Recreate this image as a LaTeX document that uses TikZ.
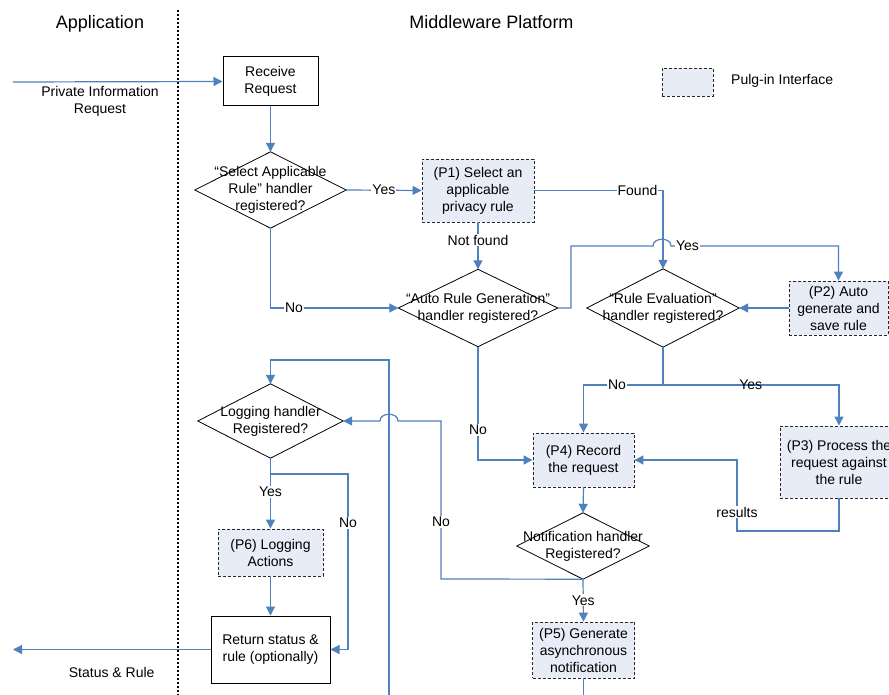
\documentclass[tikz,border=0pt]{standalone}
\usepackage{fontspec}
\setmainfont{Liberation Sans}
\usetikzlibrary{arrows.meta}
\definecolor{lnblue}{RGB}{79,129,189}
\definecolor{plugfill}{RGB}{231,236,246}
\begin{document}
\begin{tikzpicture}[x=1pt,y=-1pt,
  every node/.style={font=\fontsize{14}{17}\selectfont, align=center, inner sep=0pt},
  plainbox/.style={draw=black, line width=1pt},
  plugbox/.style={draw=black!85, dash pattern=on 3pt off 2pt, fill=plugfill, line width=0.9pt},
  decision/.style={draw=none},
  diaedge/.style={draw=black, line width=0.8pt},
  flow/.style={draw=lnblue, line width=1.2pt},
  arr/.style={flow, -{Triangle[length=9pt,width=9pt]}},
  lbl/.style={fill=white, inner sep=1pt},
  heading/.style={font=\fontsize{18}{21}\selectfont}]
\useasboundingbox (0,0) rectangle (889,695);
\clip (0,0) rectangle (889,695);
\fill[white] (0,0) rectangle (889,695);

% headings and separator
\node[heading] (happ) at (100,24) {Application};
\node[heading] (hmid) at (491.5,22) {Middleware Platform};
\draw[line width=2pt, dash pattern=on 2pt off 2pt] (178,10) -- (178,695);

% legend
\node[plugbox, minimum width=51pt, minimum height=28pt] (leg) at (687.5,82) {};
\node[anchor=west] (legtxt) at (731,81) {Pulg-in Interface};

% process nodes
\node[plainbox, minimum width=95pt, minimum height=49pt] (recv) at (270.5,81.5) {Receive\\Request};
\node[decision, minimum width=151pt, minimum height=76pt] (d1) at (270.5,190) {“Select Applicable\\Rule” handler\\registered?};
\node[plugbox, minimum width=112pt, minimum height=63pt] (p1) at (478,190.5) {(P1) Select an\\applicable\\privacy rule};
\node[decision, minimum width=159pt, minimum height=77pt] (d2) at (478,308) {“Auto Rule Generation”\\handler registered?};
\node[decision, minimum width=152pt, minimum height=78pt] (d3) at (663,308) {“Rule Evaluation”\\handler registered?};
\node[plugbox, minimum width=99pt, minimum height=54pt] (p2) at (838.5,308) {(P2) Auto\\generate and\\save rule};
\node[plugbox, minimum width=118pt, minimum height=72pt] (p3) at (839,462) {(P3) Process the\\request against\\the rule};
\node[plugbox, minimum width=101pt, minimum height=54pt] (p4) at (583.5,460) {(P4) Record\\the request};
\node[decision, minimum width=132pt, minimum height=66pt] (d4) at (583,546) {Notification handler\\Registered?};
\node[plugbox, minimum width=102pt, minimum height=56pt] (p5) at (583.5,650) {(P5) Generate\\asynchronous\\notification};
\node[decision, minimum width=145pt, minimum height=74pt] (d5) at (270.5,421) {Logging handler\\Registered?};
\node[plugbox, minimum width=105pt, minimum height=47pt] (p6) at (270.5,552.5) {(P6) Logging\\Actions};
\node[plainbox, minimum width=119pt, minimum height=67pt] (ret) at (270.5,649.5) {Return status \&\\rule (optionally)};

% diamond outlines
\foreach \d in {d1,d2,d3,d4,d5}
  \draw[diaedge] (\d.north) -- (\d.east) -- (\d.south) -- (\d.west) -- cycle;

% free ends and junctions
\coordinate (appin) at (13,82);
\coordinate (appout) at (13,649.5);
\coordinate (p5out) at (583.5,695);
\coordinate (loopin) at (389,695);
\coordinate (evsplit) at (663,385);
\coordinate (logsplit) at (270.5,474);

% connectors
\draw[arr] (appin) -- (recv.west);
\node (lpir) at (100,101.5) {Private Information\\Request};
\draw[arr] (recv.south) -- (d1.north);
\draw[arr] (d1.east) -- node[lbl] (lyes1) {Yes} (p1.west);
\draw[arr] (p1.south) -- node[lbl, pos=0.38] (lnf) {Not found} (d2.north);
\draw[arr] (p1.east) -| (d3.north);
\node[lbl] (lfound) at (637.5,190) {Found};
\draw[arr] (d1.south) |- (d2.west);
\node[lbl] (lno1) at (294,308) {No};
\draw[arr] (d2.east) -- (571,308) -- (571,246) -- (653,246)
  .. controls (653,237) and (671,237) .. (671,246) -| (p2.north);
\node[lbl] (lyes2) at (687.5,246) {Yes};
\draw[arr] (p2.west) -- (d3.east);
\draw[flow] (d3.south) -- (evsplit);
\draw[arr] (evsplit) -| (p4.north);
\draw[arr] (evsplit) -| (p3.north);
\node[lbl] (lno3) at (617,385) {No};
\draw[lbl] (750.7,385) node (lyes3) {Yes};
\draw[arr] (d2.south) |- (p4.west);
\node[lbl] (lno2) at (478,430) {No};
\draw[arr] (p3.south) -- (839,531) -- (737,531) -- (737,460) -- (p4.east);
\node[lbl] (lres) at (737,512) {results};
\draw[arr] (p4.south) -- (d4.north);
\draw[arr] (d4.south) -- node[lbl, pos=0.5] (lyes4) {Yes} (p5.north);
\draw[arr] (d4.south) -- (441,579) -- (441,421) -- (398,421)
  .. controls (398,412) and (380,412) .. (380,421) -- (d5.east);
\node[lbl] (lno4) at (441,521.7) {No};
\draw[flow] (p5.south) -- (p5out);
\draw[arr] (loopin) -- (389,360) -| (d5.north);
\draw[arr] (d5.south) -- node[lbl, pos=0.48] (lyes5) {Yes} (p6.north);
\draw[arr] (logsplit) -- (348,474) |- (ret.east);
\node[lbl] (lno5) at (348,523) {No};
\draw[arr] (p6.south) -- (ret.north);
\draw[arr] (ret.west) -- (appout);
\node (lsr) at (111.7,672.7) {Status \& Rule};
\end{tikzpicture}
\end{document}
